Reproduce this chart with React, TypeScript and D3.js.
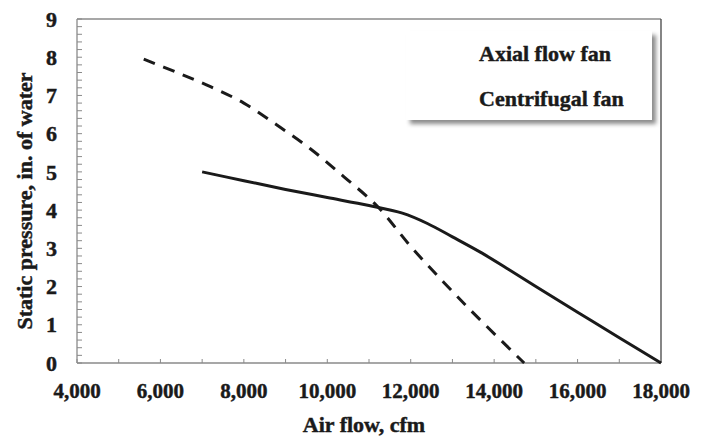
import React from "react";
import * as d3 from "d3";

// curve readings (air flow in cfm, static pressure in in. of water)
const dashedFlow = [5600, 6400, 7200, 8000, 8800, 9600, 10400, 11200, 12000, 12800, 13600, 14720];
const dashedPressure = [7.95, 7.6, 7.23, 6.8, 6.22, 5.6, 4.87, 4.1, 3.05, 2.1, 1.2, 0];

const solidFlow = [7000, 8000, 9000, 10000, 11000, 11800, 12400, 13000, 13700, 14300, 15000, 16000, 17000, 18000];
const solidPressure = [5.0, 4.77, 4.54, 4.33, 4.12, 3.92, 3.65, 3.3, 2.88, 2.48, 2.0, 1.33, 0.66, 0];

const xTicks = [4000, 6000, 8000, 10000, 12000, 14000, 16000, 18000];
const yTicks = [0, 1, 2, 3, 4, 5, 6, 7, 8, 9];
const legendLabels = ["Axial flow fan", "Centrifugal fan"];

const W = 707;
const H = 436;
const margin = { left: 77, right: 46, top: 19, bottom: 73 };
const font = "'Liberation Serif', 'Times New Roman', serif";
const ink = "#1a1a1a";

export default function App() {
  const x = d3.scaleLinear().domain([4000, 18000]).range([margin.left, W - margin.right]);
  const y = d3.scaleLinear().domain([0, 9]).range([H - margin.bottom, margin.top]);

  const line = d3
    .line<[number, number]>()
    .x((d) => x(d[0]))
    .y((d) => y(d[1]))
    .curve(d3.curveCatmullRom.alpha(0.5));

  const dashed = dashedFlow.map((f, i) => [f, dashedPressure[i]] as [number, number]);
  const solid = solidFlow.map((f, i) => [f, solidPressure[i]] as [number, number]);

  const xMinor = d3.range(4000, 18001, 1000);
  const yMinor = d3.range(0, 46).map((i) => i * 0.2);

  const [x0, x1] = x.range();
  const [y0, y1] = y.range();

  // slight stroke so the bold serif reads as heavy as the original
  const txt = { fill: ink, stroke: ink, strokeWidth: 0.45 };

  return (
    <svg
      width={W}
      height={H}
      style={{ position: "absolute", left: 0, top: 0, background: "#fff" }}
      fontFamily={font}
      fontWeight="bold"
    >
      <defs>
        <filter id="shadow" x="-10%" y="-10%" width="130%" height="140%">
          <feDropShadow dx="4" dy="4" stdDeviation="2.2" floodColor="#000" floodOpacity="0.45" />
        </filter>
      </defs>
      <rect width={W} height={H} fill="#fff" />

      {/* frame */}
      <line x1={x0} x2={x1} y1={y1} y2={y1} stroke="#8a8a8a" strokeWidth={1.3} />
      <line x1={x1} x2={x1} y1={y1} y2={y0} stroke="#444" strokeWidth={1.3} />
      <line x1={x0} x2={x1} y1={y0} y2={y0} stroke="#8a8a8a" strokeWidth={1.3} />
      <line x1={x0} x2={x0} y1={y0} y2={y1} stroke="#8a8a8a" strokeWidth={1.3} />

      {xMinor.map((t) => (
        <line key={"xm" + t} x1={x(t)} x2={x(t)} y1={y0} y2={y0 - 4} stroke="#8a8a8a" strokeWidth={1} />
      ))}
      {yMinor.map((t) => (
        <line key={"ym" + t} x1={x0} x2={x0 + 5} y1={y(t)} y2={y(t)} stroke="#8a8a8a" strokeWidth={1} />
      ))}

      {xTicks.map((t) => (
        <text key={"xt" + t} x={x(t)} y={398} textAnchor="middle" fontSize={21} {...txt}>
          {d3.format(",")(t)}
        </text>
      ))}
      {yTicks.map((t) => (
        <text key={"yt" + t} x={57} y={y(t)} dy="0.35em" textAnchor="end" fontSize={22} {...txt}>
          {t}
        </text>
      ))}

      <text x={364} y={432} textAnchor="middle" fontSize={22} {...txt}>
        Air flow, cfm
      </text>
      <text transform="translate(32,201) rotate(-90)" textAnchor="middle" fontSize={22} {...txt}>
        Static pressure, in. of water
      </text>

      <path d={line(dashed) ?? ""} fill="none" stroke={ink} strokeWidth={3} strokeDasharray="12,9" />
      <path d={line(solid) ?? ""} fill="none" stroke={ink} strokeWidth={3} />

      {/* legend */}
      <rect x={406} y={31} width={246} height={89} fill="#fff" filter="url(#shadow)" />
      {legendLabels.map((l, i) => (
        <text key={l} x={479} y={61 + i * 45} fontSize={22} {...txt}>
          {l}
        </text>
      ))}
    </svg>
  );
}
